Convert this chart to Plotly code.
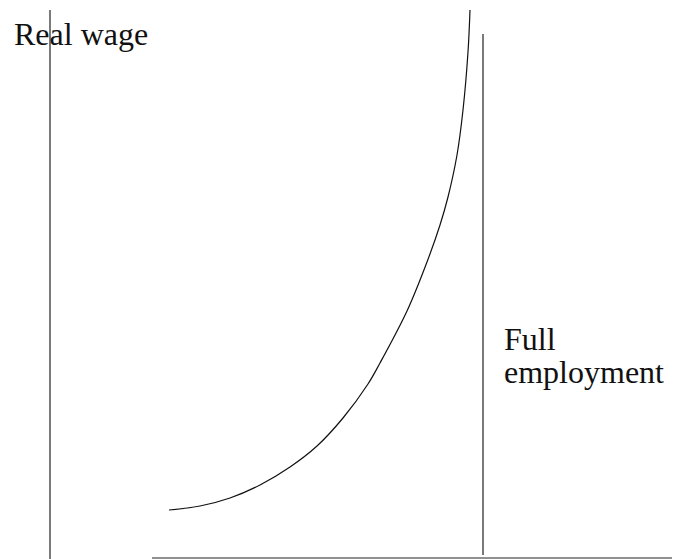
import plotly.graph_objects as go

# Labour supply / real wage curve (schematic units)
employment = [11.9, 15.0, 18.0, 21.0, 24.0, 26.7, 29.3, 31.8, 33.0, 35.7, 37.7, 39.0, 39.8, 40.7, 41.3, 41.8, 42.0]
real_wage = [4.9, 5.3, 6.1, 7.4, 9.2, 11.3, 14.1, 17.5, 19.6, 24.8, 29.7, 33.4, 36.2, 40.4, 44.9, 50.7, 54.9]

# Axes (drawn as lines)
y_axis_x = [0, 0]
y_axis_y = [0, 54.9]
x_axis_x = [10.2, 62.2]
x_axis_y = [0.1, 0.1]

# Full employment line
full_emp_x = [43.3, 43.3]
full_emp_y = [0.4, 52.5]

fig = go.Figure()
line_style = dict(color="#222222", width=1.2)
fig.add_trace(go.Scatter(x=y_axis_x, y=y_axis_y, mode="lines", line=line_style, hoverinfo="skip"))
fig.add_trace(go.Scatter(x=x_axis_x, y=x_axis_y, mode="lines", line=line_style, hoverinfo="skip"))
fig.add_trace(go.Scatter(x=full_emp_x, y=full_emp_y, mode="lines", line=line_style, hoverinfo="skip"))
fig.add_trace(go.Scatter(x=employment, y=real_wage, mode="lines",
                         line=dict(color="#111111", width=1.2, shape="spline", smoothing=1.0),
                         hoverinfo="skip"))

font = dict(family="Liberation Serif", size=32, color="#111111")
fig.add_annotation(x=-3.8, y=52.5, text="Real wage", showarrow=False, xanchor="left", yanchor="middle", font=font)
fig.add_annotation(x=45.2, y=22.0, text="Full", showarrow=False, xanchor="left", yanchor="middle", font=font)
fig.add_annotation(x=45.2, y=18.7, text="employment", showarrow=False, xanchor="left", yanchor="middle", font=font)

fig.update_layout(
    width=673, height=559,
    margin=dict(l=0, r=0, t=0, b=0),
    paper_bgcolor="white", plot_bgcolor="white",
    showlegend=False,
    xaxis=dict(range=[-5.0, 62.3], visible=False, fixedrange=True),
    yaxis=dict(range=[0, 55.9], visible=False, fixedrange=True),
)

fig.write_html(
    "out.html",
    config={"displayModeBar": False},
    post_script="document.body.style.margin='0';document.body.style.overflow='hidden';",
)
